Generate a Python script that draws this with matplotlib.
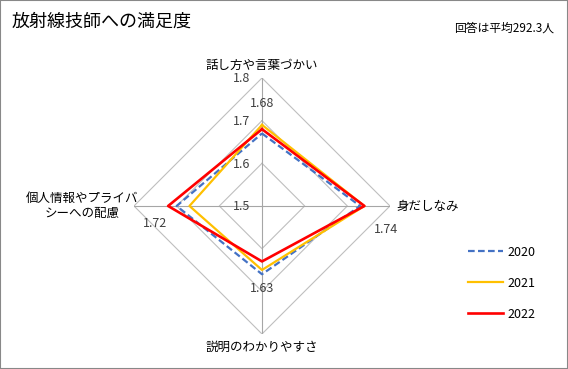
import numpy as np
import matplotlib
matplotlib.use("Agg")
import matplotlib.pyplot as plt
from matplotlib.patches import Rectangle

plt.rcParams['font.family'] = ['Noto Sans CJK JP', 'DejaVu Sans']

categories = ['話し方や言葉づかい', '身だしなみ', '説明のわかりやすさ', '個人情報やプライバ\nシーへの配慮']
years = ['2020', '2021', '2022']
v2020 = [1.67, 1.73, 1.66, 1.70]
v2021 = [1.69, 1.74, 1.65, 1.67]
v2022 = [1.68, 1.74, 1.63, 1.72]
grid_levels = [1.5, 1.6, 1.7, 1.8]
title = '放射線技師への満足度'
note = '回答は平均292.3人'

colors = ['#4472C4', '#FFC000', '#FF0000']
styles = [(0, (3, 1.5)), '-', '-']
widths = [1.6, 1.6, 1.9]

fig = plt.figure(figsize=(5.68, 3.69), dpi=100)
fig.patches.append(Rectangle((0, 0), 1, 1, transform=fig.transFigure,
                             fill=False, edgecolor='#888888', lw=1.5))

ax = fig.add_axes([0.2359, 0.0949, 0.4507, 0.6938], projection='polar')
ax.set_theta_zero_location('N')
ax.set_theta_direction(-1)
ax.set_ylim(1.5, 1.8)
ax.grid(False)
ax.spines['polar'].set_visible(False)
ax.set_xticks([])
ax.set_yticks([])
ax.patch.set_alpha(0)

angles = np.arange(len(categories)) * 2 * np.pi / len(categories)
closed = np.append(angles, angles[0])

# diamond grid
for lv in grid_levels[1:]:
    ax.plot(closed, [lv] * len(closed), color='#BFBFBF', lw=0.8, zorder=1)
for a in angles:
    ax.plot([a, a], [1.5, 1.8], color='#A6A6A6', lw=0.8, zorder=1)

for lv in grid_levels:
    ax.annotate(f'{lv:g}', xy=(0, lv), xytext=(-12, -1), textcoords='offset pixels',
                ha='right', va='center', fontsize=9, color='#404040', annotation_clip=False)

for vals, c, ls, lw, yr in zip([v2020, v2021, v2022], colors, styles, widths, years):
    ax.plot(closed, vals + vals[:1], color=c, ls=ls, lw=lw, label=yr, zorder=3)

# data labels for 2022
lab_off = [(0, 26), (22, -24), (0, -27), (-13, -18)]
for a, v, off in zip(angles, v2022, lab_off):
    ax.annotate(f'{v:.2f}', xy=(a, v), xytext=off, textcoords='offset pixels',
                ha='center', va='center', fontsize=9, color='#404040', annotation_clip=False)

# category labels
cat_off = [(0, 13, 'center'), (6, 0, 'left'), (0, -13, 'center'), (-52, 0, 'center')]
for a, name, (dx, dy, ha) in zip(angles, categories, cat_off):
    ax.annotate(name, xy=(a, 1.8), xytext=(dx, dy), textcoords='offset pixels',
                ha=ha, va='center', fontsize=9, color='#000000', annotation_clip=False,
                multialignment='center')

fig.text(0.021, 0.94, title, fontsize=13, ha='left', va='center')
fig.text(0.975, 0.925, note, fontsize=8.5, ha='right', va='center')

fig.legend(loc='upper left', bbox_to_anchor=(0.805, 0.365), frameon=False,
           fontsize=9, handlelength=2.8, labelspacing=1.45, handletextpad=0.3)

fig.savefig('out.png', dpi=100)
